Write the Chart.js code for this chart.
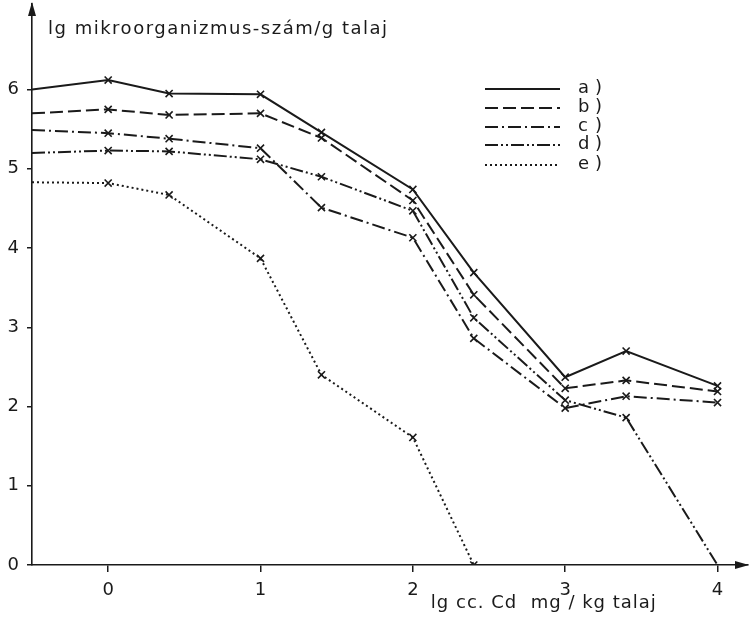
<!DOCTYPE html>
<html>
<head>
<meta charset="utf-8">
<script src="https://cdn.jsdelivr.net/npm/chart.js@4/dist/chart.umd.min.js"></script>
<style>
  html, body { margin: 0; padding: 0; background: #fff; }
  #wrap { width: 749px; height: 617px; }
</style>
</head>
<body>
<div id="wrap"><canvas id="cdChart" width="749" height="617"></canvas></div>
<script>
// lg Cd dose (mg/kg soil) on the x axis, lg count of microorganisms per g soil on y
const doseLg = [-0.5, 0, 0.4, 1, 1.4, 2, 2.4, 3, 3.4, 4];

const seriesA = [6.00, 6.12, 5.95, 5.94, 5.46, 4.74, 3.69, 2.37, 2.70, 2.26];
const seriesB = [5.70, 5.75, 5.68, 5.70, 5.39, 4.60, 3.41, 2.23, 2.33, 2.19];
const seriesC = [5.49, 5.45, 5.38, 5.26, 4.51, 4.13, 2.86, 1.98, 2.13, 2.05];
const seriesD = [5.20, 5.23, 5.22, 5.12, 4.90, 4.47, 3.12, 2.08, 1.86, 0];
const seriesE = [4.83, 4.82, 4.67, 3.87, 2.40, 1.61, 0];

const seriesLabels = ['a', 'b', 'c', 'd', 'e'];
const xTicks = [0, 1, 2, 3, 4];
const yTicks = [0, 1, 2, 3, 4, 5, 6];

const yTitle = 'lg mikroorganizmus-szám/g talaj';
const xTitle = 'lg cc. Cd  mg / kg talaj';

const FONT = "'DejaVu Sans', sans-serif";
const INK = '#1a1a1a';

function toPoints(values) {
  return values.map((v, i) => ({ x: doseLg[i], y: v }));
}

// dash patterns for a) .. e)
const dashes = [[], [13, 5], [13, 4, 2, 4], [13, 3, 2, 3, 2, 3], [2, 3]];

const datasets = [seriesA, seriesB, seriesC, seriesD, seriesE].map((s, i) => ({
  label: seriesLabels[i],
  data: toPoints(s),
  borderColor: INK,
  borderWidth: 2,
  borderDash: dashes[i],
  fill: false,
  tension: 0,
  pointStyle: 'crossRot',
  pointBorderColor: INK,
  pointBorderWidth: 1.6,
  // the first point sits on the y axis and the d) end point on the x axis: no marker there
  pointRadius: ctx => (ctx.dataIndex === 0 || (i === 3 && ctx.dataIndex === s.length - 1)) ? 0 : 5
}));

// keep the plot box fixed: no extra room for half tick labels
function noPad(scale) {
  scale.paddingTop = 0;
  scale.paddingBottom = 0;
  scale.paddingLeft = 0;
  scale.paddingRight = 0;
}

// titles, hand-drawn style legend and axis arrows
const overlayPlugin = {
  id: 'overlay',
  afterDraw(chart) {
    const { ctx, chartArea } = chart;
    const xs = chart.scales.x;
    ctx.save();
    ctx.fillStyle = INK;
    ctx.strokeStyle = INK;

    // arrows
    ctx.beginPath();
    ctx.moveTo(chartArea.left, chartArea.top - 2);
    ctx.lineTo(chartArea.left - 4, chartArea.top + 12);
    ctx.lineTo(chartArea.left + 4, chartArea.top + 12);
    ctx.closePath();
    ctx.fill();
    ctx.beginPath();
    ctx.moveTo(chartArea.right + 1, chartArea.bottom);
    ctx.lineTo(chartArea.right - 13, chartArea.bottom - 4);
    ctx.lineTo(chartArea.right - 13, chartArea.bottom + 4);
    ctx.closePath();
    ctx.fill();

    // axis titles
    ctx.font = '18px ' + FONT;
    ctx.textBaseline = 'middle';
    ctx.textAlign = 'left';
    ctx.letterSpacing = '1.5px';
    ctx.fillText(yTitle, chartArea.left + 16, 29);
    ctx.letterSpacing = '1px';
    ctx.textAlign = 'center';
    ctx.fillText(xTitle, xs.getPixelForValue(2.86), chartArea.bottom + 38);
    ctx.letterSpacing = '0px';

    // legend
    const lx0 = 485, lx1 = 560;
    const rows = [89, 108, 127, 145, 165];
    chart.data.datasets.forEach((ds, i) => {
      ctx.beginPath();
      ctx.lineWidth = ds.borderWidth;
      ctx.setLineDash(ds.borderDash);
      ctx.moveTo(lx0, rows[i]);
      ctx.lineTo(lx1, rows[i]);
      ctx.stroke();
      ctx.setLineDash([]);
      ctx.font = '18px ' + FONT;
      ctx.textAlign = 'left';
      ctx.fillText(ds.label, 578, rows[i] - 1);
      ctx.fillText(')', 595, rows[i] - 1);
    });
    ctx.restore();
  }
};

new Chart(document.getElementById('cdChart'), {
  type: 'line',
  data: { datasets },
  options: {
    responsive: false,
    animation: false,
    layout: { autoPadding: false, padding: { top: 4, right: 1, left: 0, bottom: -2 } },
    plugins: {
      legend: { display: false },
      tooltip: { enabled: false }
    },
    scales: {
      x: {
        type: 'linear',
        min: -0.5,
        max: 4.2,
        afterFit: scale => { scale.height = 54; noPad(scale); },
        afterBuildTicks: scale => { scale.ticks = xTicks.map(v => ({ value: v })); },
        border: { color: INK, width: 1.6 },
        grid: { drawOnChartArea: false, drawTicks: true, tickLength: 7, color: INK, lineWidth: 1.5 },
        ticks: { color: INK, font: { family: FONT, size: 18 }, padding: 8 }
      },
      y: {
        min: 0,
        max: 7.08,
        afterFit: scale => { scale.width = 32; noPad(scale); },
        afterBuildTicks: scale => { scale.ticks = yTicks.map(v => ({ value: v })); },
        border: { color: INK, width: 1.6 },
        grid: { drawOnChartArea: false, drawTicks: true, tickLength: 5, color: INK, lineWidth: 1.5 },
        ticks: { color: INK, font: { family: FONT, size: 18 }, padding: 8 }
      }
    }
  },
  plugins: [overlayPlugin]
});
</script>
</body>
</html>
